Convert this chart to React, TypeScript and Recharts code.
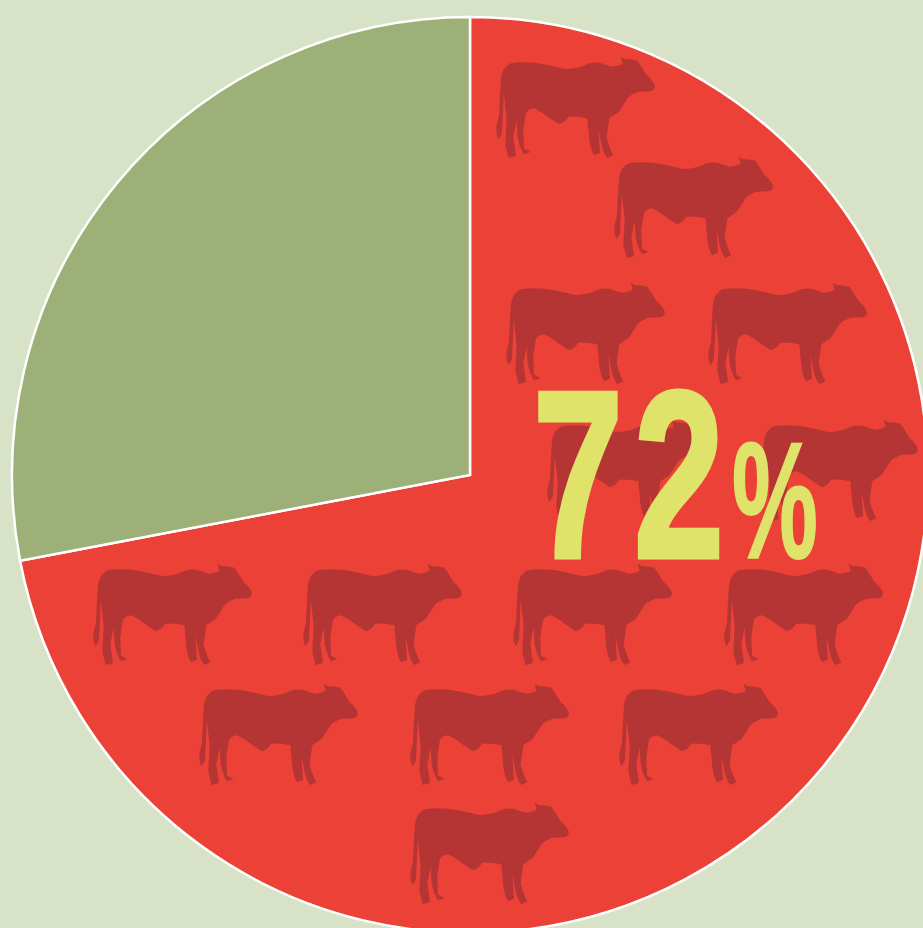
import React from "react";
import { PieChart, Pie, Cell, ScatterChart, Scatter, XAxis, YAxis } from "recharts";

const W = 923;
const H = 928;

const sliceNames = ["Red", "Green"];
const sliceValues = [72, 28];
const sliceColors = ["#ec4136", "#9cb077"];

const cowX = [490, 608, 500, 702, 541, 753, 87, 297, 507, 718, 193, 404, 613, 404];
const cowY = [50, 150, 276, 276, 413, 413, 557, 557, 557, 557, 677, 677, 677, 796];

const pieData = sliceNames.map((name, i) => ({ name, value: sliceValues[i] }));
const cowData = cowX.map((x, i) => ({ x, y: cowY[i] }));
const labelData = [{ x: 533, y: 558, pct: sliceValues[0] }];

const COW =
  "M33,85 Q38,50 62,40 Q110,33 160,42 Q195,50 225,57 Q262,56 285,45 Q312,32 340,42 L365,50 Q385,48 398,42 L392,20 L405,28 Q425,26 442,32 Q455,50 470,75 Q490,92 495,108 Q494,122 480,124 L445,125 Q425,132 412,145 Q398,170 385,187 L358,205 L350,262 Q358,295 370,316 L352,324 Q340,310 335,285 L325,235 L330,308 L312,316 Q302,300 298,270 L292,205 Q262,198 235,200 Q222,220 205,222 Q190,212 175,202 Q150,182 132,175 Q118,176 108,188 L100,240 L102,296 L122,306 L102,313 Q88,290 83,262 L80,212 L70,262 L78,318 L56,324 L46,285 L50,205 L41,130 L38,205 L36,250 L26,268 Q16,250 20,225 L27,198 L30,130 Z";

const CowShape = (p: any) => (
  <path d={COW} fill="#b53535" transform={`translate(${p.cx},${p.cy}) scale(0.3333)`} />
);

const PctShape = (p: any) => {
  const font = "'Liberation Sans', sans-serif";
  return (
    <g fill="#dfe36a" stroke="#dfe36a" fontFamily={font} fontWeight={700} strokeLinejoin="miter">
      <text
        transform={`translate(${p.cx},${p.cy - 1}) scale(0.68,1)`}
        fontSize={238}
        letterSpacing={16}
        strokeWidth={5}
        x={0}
        y={0}
      >
        {p.payload.pct}
      </text>
      <text transform={`translate(${p.cx + 199},${p.cy}) scale(0.585,1)`} fontSize={165} strokeWidth={2} x={0} y={0}>
        %
      </text>
    </g>
  );
};

export default function App() {
  return (
    <div
      style={{
        position: "absolute",
        left: 0,
        top: 0,
        width: W,
        height: H,
        background: "#d8e2c6",
        overflow: "hidden",
        filter: "blur(0.7px)",
      }}
    >
      <div style={{ position: "absolute", left: 0, top: 0 }}>
        <PieChart width={W} height={H} margin={{ top: 0, right: 0, bottom: 0, left: 0 }}>
          <Pie
            data={pieData}
            dataKey="value"
            nameKey="name"
            cx={470}
            cy={475}
            innerRadius={0}
            outerRadius={458}
            startAngle={90}
            endAngle={-270}
            stroke="#ffffff"
            strokeWidth={2.5}
            isAnimationActive={false}
          >
            {pieData.map((d, i) => (
              <Cell key={d.name} fill={sliceColors[i]} />
            ))}
          </Pie>
        </PieChart>
      </div>
      <div style={{ position: "absolute", left: 0, top: 0 }}>
        <ScatterChart width={W} height={H} margin={{ top: 0, right: 0, bottom: 0, left: 0 }}>
          <XAxis type="number" dataKey="x" domain={[0, W]} hide />
          <YAxis type="number" dataKey="y" domain={[0, H]} reversed hide />
          <Scatter data={cowData} shape={CowShape} isAnimationActive={false} />
          <Scatter data={labelData} shape={PctShape} isAnimationActive={false} />
        </ScatterChart>
      </div>
    </div>
  );
}
